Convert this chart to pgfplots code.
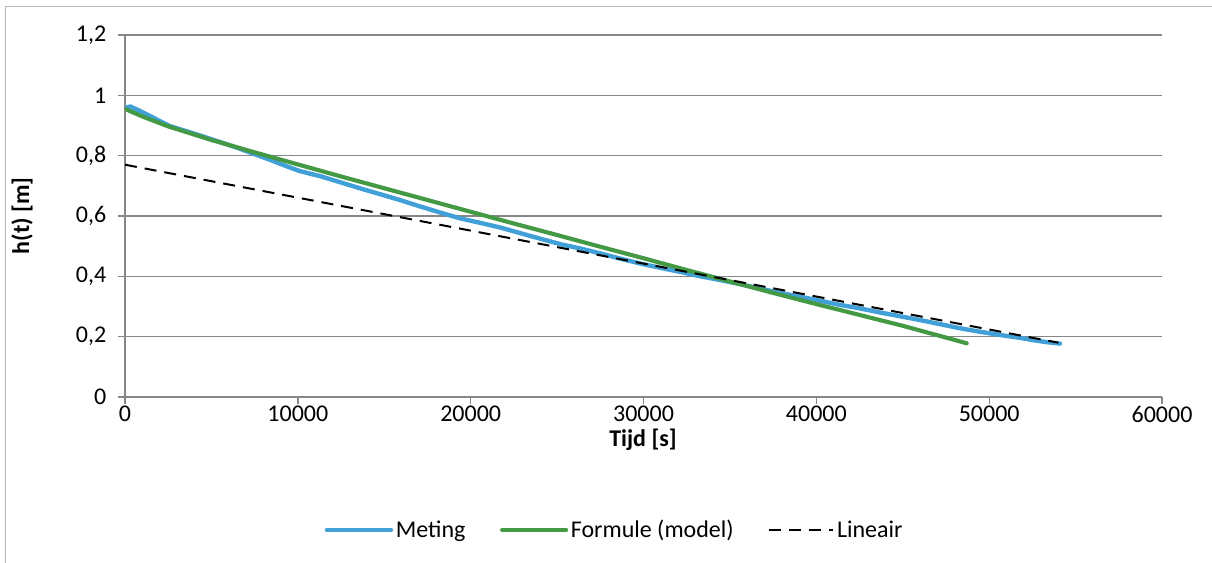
\documentclass[border=0pt]{standalone}
\usepackage{fontspec}
\setmainfont{Carlito}
\usepackage{pgfplots}
\pgfplotsset{compat=1.18}
\definecolor{meting}{RGB}{65,160,215}
\definecolor{formule}{RGB}{67,153,68}
\definecolor{gridc}{RGB}{134,134,134}
\newcommand{\lblfont}{\fontsize{18}{21}\selectfont}
\begin{document}
\begin{tikzpicture}
\path[use as bounding box] (0pt,0pt) rectangle (909pt,422.25pt);
\draw[gridc!60, line width=0.75pt] (3.75pt,0pt) -- (3.75pt,417pt) -- (909pt,417pt);
\begin{axis}[
  at={(93.75pt,124.5pt)}, anchor=south west,
  scale only axis, width=777.75pt, height=271.5pt,
  xmin=0, xmax=60000, ymin=0, ymax=1.2,
  xtick={0,10000,20000,30000,40000,50000,60000},
  ytick={0,0.2,0.4,0.6,0.8,1,1.2},
  scaled x ticks=false, scaled y ticks=false,
  axis x line*=bottom, axis y line*=left,
  axis line style={draw=gridc, line width=1pt},
  ymajorgrids, grid style={draw=gridc, line width=1pt},
  tick align=outside, major tick length=5.5pt,
  tick style={draw=gridc, line width=1pt},
  xticklabel style={/pgf/number format/.cd, 1000 sep={}, /tikz/.cd, yshift=2pt},
  yticklabel style={/pgf/number format/.cd, use comma, fixed, /tikz/.cd, xshift=-5pt},
  /pgf/number format/assume math mode=true,
  tick label style={font=\lblfont, text=black},
  legend style={draw=none, fill=none, legend columns=3,
    at={(axis description cs:0.4725,-0.367)}, anchor=center,
    font=\lblfont,
    /tikz/every even column/.append style={column sep=24pt}},
  legend image code/.code={\draw[#1] (0pt,0pt) -- (48pt,0pt);},
]
\addplot[meting, line width=3.3pt, line cap=round, line join=round] coordinates {
(0,0.958) (300,0.963) (700,0.953) (1000,0.944) (1500,0.930) (2000,0.915)
(2600,0.898) (3500,0.882) (4500,0.864) (5500,0.845) (6500,0.826) (7500,0.805)
(8400,0.786) (9300,0.766) (10100,0.749) (11300,0.732) (12500,0.711) (13700,0.690)
(14900,0.670) (15900,0.653) (17000,0.633) (18200,0.612) (19400,0.592) (20500,0.578)
(21700,0.562) (23000,0.541) (24200,0.522) (25300,0.505) (26300,0.493) (27500,0.476)
(28700,0.458) (30000,0.440) (31000,0.428) (32100,0.415) (33300,0.400) (34500,0.387)
(35600,0.374) (36700,0.360) (37900,0.345) (39100,0.332) (40300,0.318) (41400,0.305)
(42500,0.294) (43700,0.280) (44900,0.267) (46000,0.255) (47200,0.241) (48300,0.228)
(49500,0.216) (50700,0.205) (51800,0.196) (52600,0.188) (53300,0.182) (54100,0.177)
};
\addlegendentry{Meting}
\addplot[formule, line width=3.1pt, line cap=round, line join=round] coordinates {
(0,0.955) (1000,0.930) (2500,0.897) (5000,0.852) (7500,0.811) (10000,0.771)
(12500,0.731) (15000,0.692) (17500,0.653) (20000,0.614) (22500,0.575) (25000,0.537)
(27500,0.498) (30000,0.460) (32500,0.421) (35000,0.383) (37500,0.345) (40000,0.308)
(42500,0.272) (45000,0.236) (47500,0.197) (48700,0.178)
};
\addlegendentry{Formule (model)}
\addplot[black, line width=1.5pt, dash pattern=on 9pt off 6pt] coordinates {
(0,0.770) (54000,0.180)
};
\addlegendentry{Lineair}
\end{axis}
\node[rotate=90, font=\lblfont\bfseries] at (16.5pt,260.25pt) {h(t) [m]};
\node[font=\lblfont\bfseries] at (482.25pt,92.25pt) {Tijd [s]};
\end{tikzpicture}
\end{document}
